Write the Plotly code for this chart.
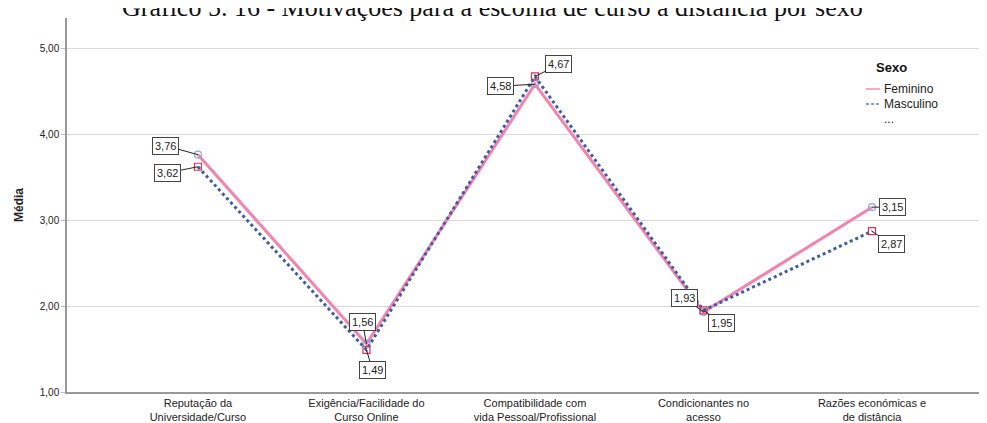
import plotly.graph_objects as go

categorias = ["Reputação da<br>Universidade/Curso",
              "Exigência/Facilidade do<br>Curso Online",
              "Compatibilidade com<br>vida Pessoal/Profissional",
              "Condicionantes no<br>acesso",
              "Razões económicas e<br>de distância"]
feminino = [3.76, 1.56, 4.58, 1.93, 3.15]
masculino = [3.62, 1.49, 4.67, 1.95, 2.87]
legenda = ["Feminino", "Masculino", "..."]

# label offsets (px) for the boxed value labels
off_fem = [(-32, -9), (-4, -22), (-34, 2), (-19, -14), (20, 0)]
off_mas = [(-30, 6), (6, 20), (24, -12), (18, 13), (19, 13)]

x = list(range(len(categorias)))
cor_fem = "#f483ae"
cor_mas = "#3d5dab"

fig = go.Figure()
fig.add_trace(go.Scatter(
    x=x, y=feminino, name=legenda[0], mode="lines+markers",
    line=dict(color=cor_fem, width=3),
    marker=dict(symbol="circle-open", size=7, color="#8fa6e6", line=dict(width=1.2)),
))
fig.add_trace(go.Scatter(
    x=x, y=masculino, name=legenda[1], mode="lines+markers",
    line=dict(color=cor_mas, width=3, dash="dot"),
    marker=dict(symbol="square-open", size=7, color="#d8344f", line=dict(width=1.2)),
))

def rotulo(v):
    return f"{v:.2f}".replace(".", ",")

for serie, offs in ((feminino, off_fem), (masculino, off_mas)):
    for i, (v, (ax, ay)) in enumerate(zip(serie, offs)):
        fig.add_annotation(
            x=i, y=v, text=rotulo(v), showarrow=True, arrowhead=0,
            arrowwidth=1, arrowcolor="#222", ax=ax, ay=ay, standoff=0,
            bordercolor="#444", borderwidth=1, borderpad=2, bgcolor="white",
            font=dict(family="Arial, Liberation Sans", size=11, color="#222"),
        )

fig.add_annotation(
    xref="paper", yref="paper", x=0.46, y=1, xanchor="center",
    yanchor="bottom", yshift=-6,
    text="Gráfico 5. 16 - Motivações para a escolha de curso a distância por sexo",
    showarrow=False,
    font=dict(family="Liberation Serif, Times New Roman", size=26, color="#111"),
)

# hand-drawn legend (compact like the original)
def px(sx):
    return (sx - 67) / 926

def py(sy):
    return (392 - sy) / 374

fig.add_annotation(xref="paper", yref="paper", x=px(891), y=py(68),
                   xanchor="center", yanchor="middle",
                   text="<b>Sexo</b>", showarrow=False,
                   font=dict(size=13, color="#111"))
leg_y = [89, 104, 119]
fig.add_shape(type="line", xref="paper", yref="paper",
              x0=px(866), x1=px(880), y0=py(leg_y[0]), y1=py(leg_y[0]),
              line=dict(color="#f7aac8", width=2))
fig.add_shape(type="line", xref="paper", yref="paper",
              x0=px(866), x1=px(880), y0=py(leg_y[1]), y1=py(leg_y[1]),
              line=dict(color="#8a9fd8", width=2, dash="3px,2px"))
for nome, sy in zip(legenda, leg_y):
    fig.add_annotation(xref="paper", yref="paper", x=px(882), y=py(sy),
                       xanchor="left", yanchor="middle", text=nome,
                       showarrow=False, font=dict(size=12, color="#222"))

fig.update_layout(
    width=987, height=423,
    margin=dict(l=59, r=2, t=10, b=39),
    paper_bgcolor="white", plot_bgcolor="white",
    separators=",.",
    font=dict(family="Arial, Liberation Sans", size=11, color="#222"),
    showlegend=False,
    xaxis=dict(
        tickmode="array", tickvals=x, ticktext=categorias,
        range=[-0.777, 4.718], showgrid=False, zeroline=False,
        showline=True, linecolor="#999", linewidth=1.5, ticks="",
        tickfont=dict(size=11),
    ),
    yaxis=dict(
        range=[1, 5.35], tickvals=[1, 2, 3, 4, 5], tickformat=".2f",
        showgrid=True, gridcolor="#d9d9d9", gridwidth=1.2, zeroline=False,
        showline=True, linecolor="#999", linewidth=1.5,
        ticks="outside", ticklen=4, tickcolor="#bbb",
        tickfont=dict(size=10),
        title=dict(text="<b>Média</b>", font=dict(size=12), standoff=14),
    ),
)

fig.write_html("out.html")
